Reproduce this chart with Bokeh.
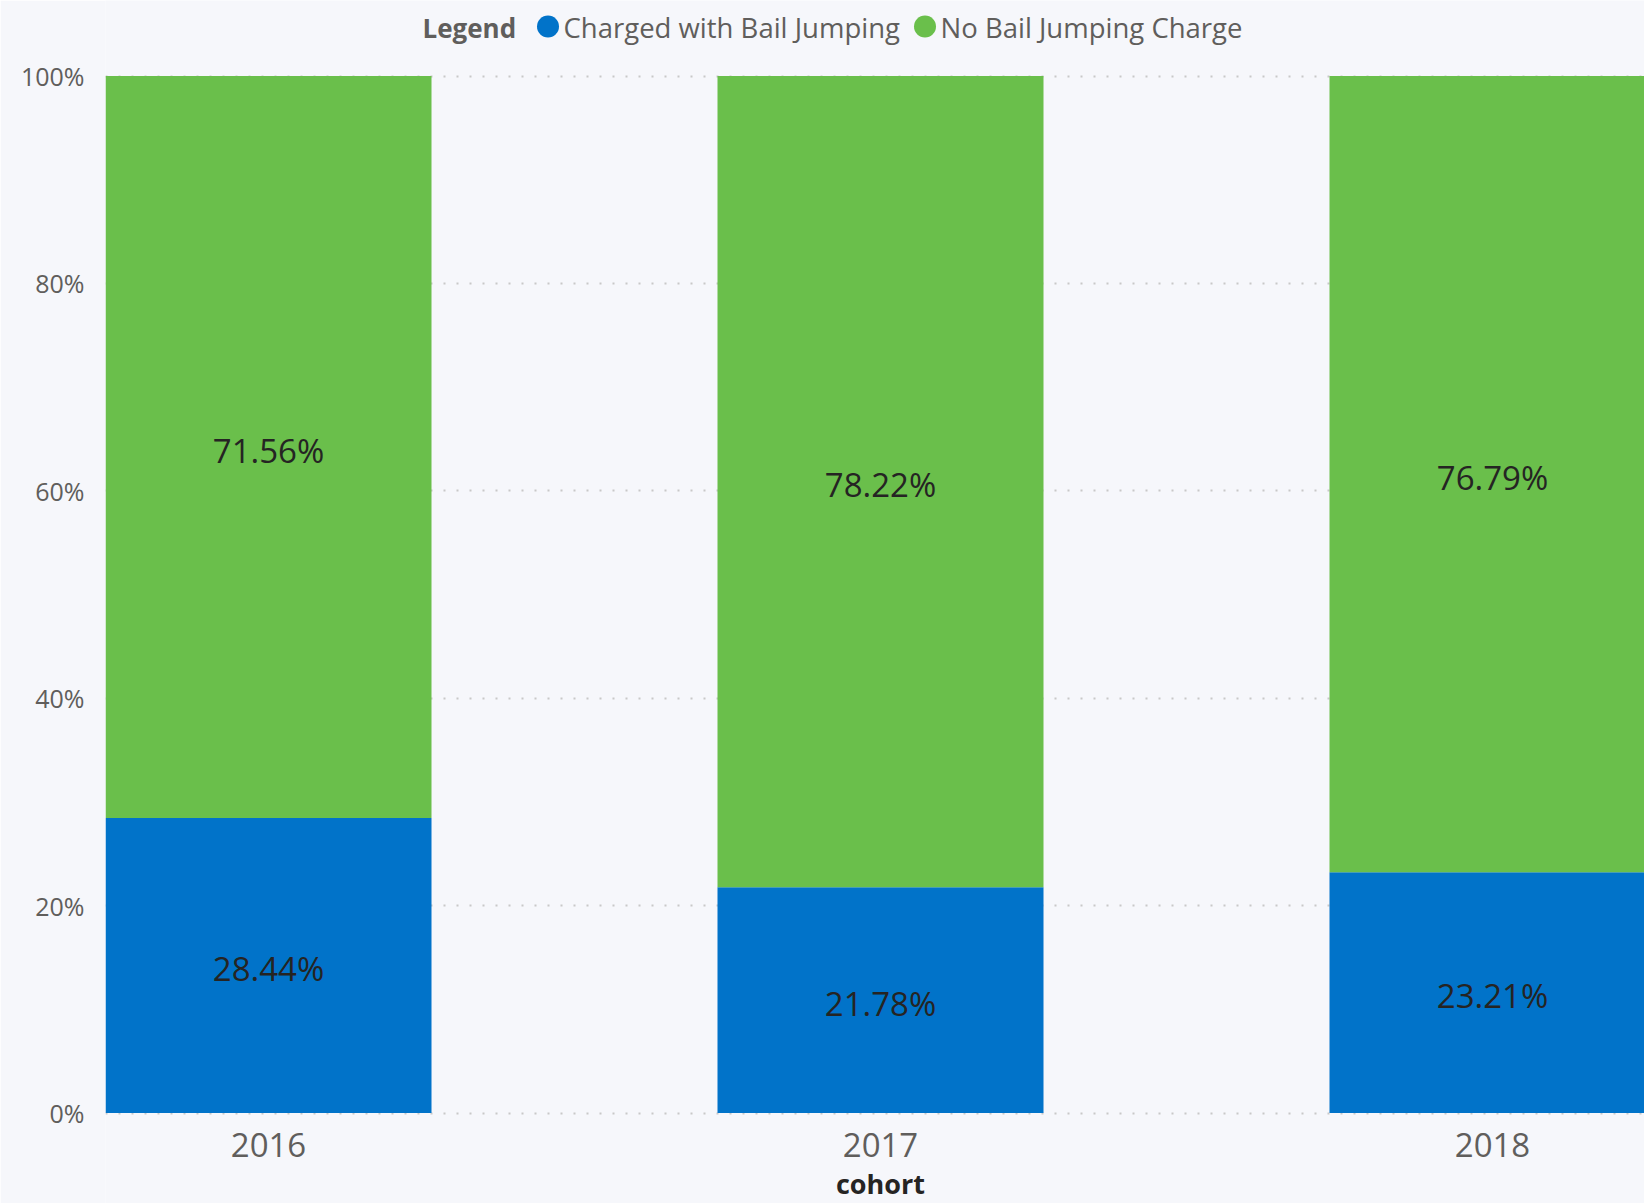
from bokeh.plotting import figure
from bokeh.models import (FixedTicker, NumeralTickFormatter, Range1d,
                          ColumnDataSource)
from bokeh.embed import file_html
from bokeh.resources import INLINE
from bokeh.core.properties import value

# ---- data ----
categories = ["2016", "2017", "2018"]
series_names = ["Charged with Bail Jumping", "No Bail Jumping Charge"]
charged = [0.2844, 0.2178, 0.2321]
no_charge = [0.7156, 0.7822, 0.7679]
y_ticks = [0, 0.2, 0.4, 0.6, 0.8, 1.0]
x_axis_title = "cohort"
legend_title = "Legend"

# ---- style / layout ----
colors = ["#0173C9", "#6ABF4B"]
BG = "#F6F7FB"
GRAY = "#605E5C"
DARK = "#252423"
FONT = "Open Sans"
W, H = 1644, 1203
FL = 105                 # frame left (px)
Y0_PX, Y1_PX = 1112.5, 75.5   # pixel rows of 0% and 100%
PPU_Y = Y0_PX - Y1_PX         # pixels per unit (y)
PPU_X = 612.0                 # pixels per category step
BAR_W = 326 / PPU_X
PX = 1.0 / PPU_Y              # one pixel in y data units
LEG_CY = 26                   # legend row centre (px from top)
LEG_TITLE_X = 422             # legend title left (px)
LEG_DOT_X = [547.5, 924.5]    # legend dot centres (px)
LEG_DOT_D = 22                # legend dot diameter (px)
LEG_GAP = 4.5                 # gap dot edge -> label (px)

xs = list(range(len(categories)))
x_start = -BAR_W / 2
x_end = x_start + (W - FL) / PPU_X
y_start = -(H - Y0_PX) / PPU_Y
y_end = Y0_PX / PPU_Y


def px_x(px):
    return x_start + (px - FL) / PPU_X


def px_y(py):
    return (Y0_PX - py) * PX


p = figure(width=W, height=H, output_backend="svg", toolbar_location=None,
           x_range=Range1d(x_start, x_end), y_range=Range1d(y_start, y_end),
           x_axis_location=None,
           min_border_left=FL, min_border_right=0, min_border_top=0,
           min_border_bottom=0)
p.background_fill_color = BG
p.border_fill_color = BG
p.outline_line_color = None

source = ColumnDataSource(dict(x=xs, charged=charged, no_charge=no_charge))
p.vbar_stack(["charged", "no_charge"], x="x", width=BAR_W, color=colors,
             line_color=None, source=source)

# data labels
lab_x = xs + xs
lab_y = [c / 2 - 3 * PX for c in charged] + \
        [c + n / 2 - 3 * PX for c, n in zip(charged, no_charge)]
lab_t = [f"{v * 100:.2f}%" for v in charged] + [f"{v * 100:.2f}%" for v in no_charge]
p.text(x=lab_x, y=lab_y, text=lab_t, text_align="center", text_baseline="middle",
       text_font=value(FONT), text_font_size="33px", text_color=DARK)

# category labels (x axis)
p.text(x=xs, y=[-31.5 * PX] * len(xs), text=categories, text_align="center",
       text_baseline="middle", text_font=value(FONT), text_font_size="33px",
       text_color=GRAY)

# x axis title
p.text(x=[(len(categories) - 1) / 2], y=[-70.5 * PX], text=[x_axis_title],
       text_align="center", text_baseline="middle", text_font=value(FONT),
       text_font_size="27px", text_font_style="bold", text_color=DARK)

# y axis
p.yaxis.ticker = FixedTicker(ticks=y_ticks)
p.yaxis.formatter = NumeralTickFormatter(format="0%")
p.yaxis.axis_line_color = None
p.yaxis.major_tick_line_color = None
p.yaxis.minor_tick_line_color = None
p.yaxis.major_tick_out = 0
p.yaxis.major_tick_in = 0
p.yaxis.major_label_standoff = 21
p.yaxis.major_label_text_font = FONT
p.yaxis.major_label_text_font_size = "25px"
p.yaxis.major_label_text_color = GRAY

p.xgrid.grid_line_color = None
p.ygrid.ticker = FixedTicker(ticks=y_ticks)
p.ygrid.grid_line_color = "#C8C8C8"
p.ygrid.grid_line_width = 2
p.ygrid.grid_line_dash = "2 11"

# legend (drawn by hand, above the plot area)
p.text(x=[px_x(LEG_TITLE_X)], y=[px_y(LEG_CY + 1)],
       text=[legend_title], text_align="left", text_baseline="middle",
       text_font=value(FONT), text_font_size="26px", text_font_style="bold",
       text_color=GRAY)
p.scatter(x=[px_x(cx) for cx in LEG_DOT_X], y=[px_y(LEG_CY)] * len(LEG_DOT_X),
          marker="circle", size=LEG_DOT_D, fill_color=colors, line_color=None)
p.text(x=[px_x(cx + LEG_DOT_D / 2 + LEG_GAP) for cx in LEG_DOT_X],
       y=[px_y(LEG_CY + 1)] * len(LEG_DOT_X), text=series_names,
       text_align="left", text_baseline="middle", text_font=value(FONT),
       text_font_size="27.5px", text_color=GRAY)

open("out.html", "w").write(file_html(p, INLINE))
